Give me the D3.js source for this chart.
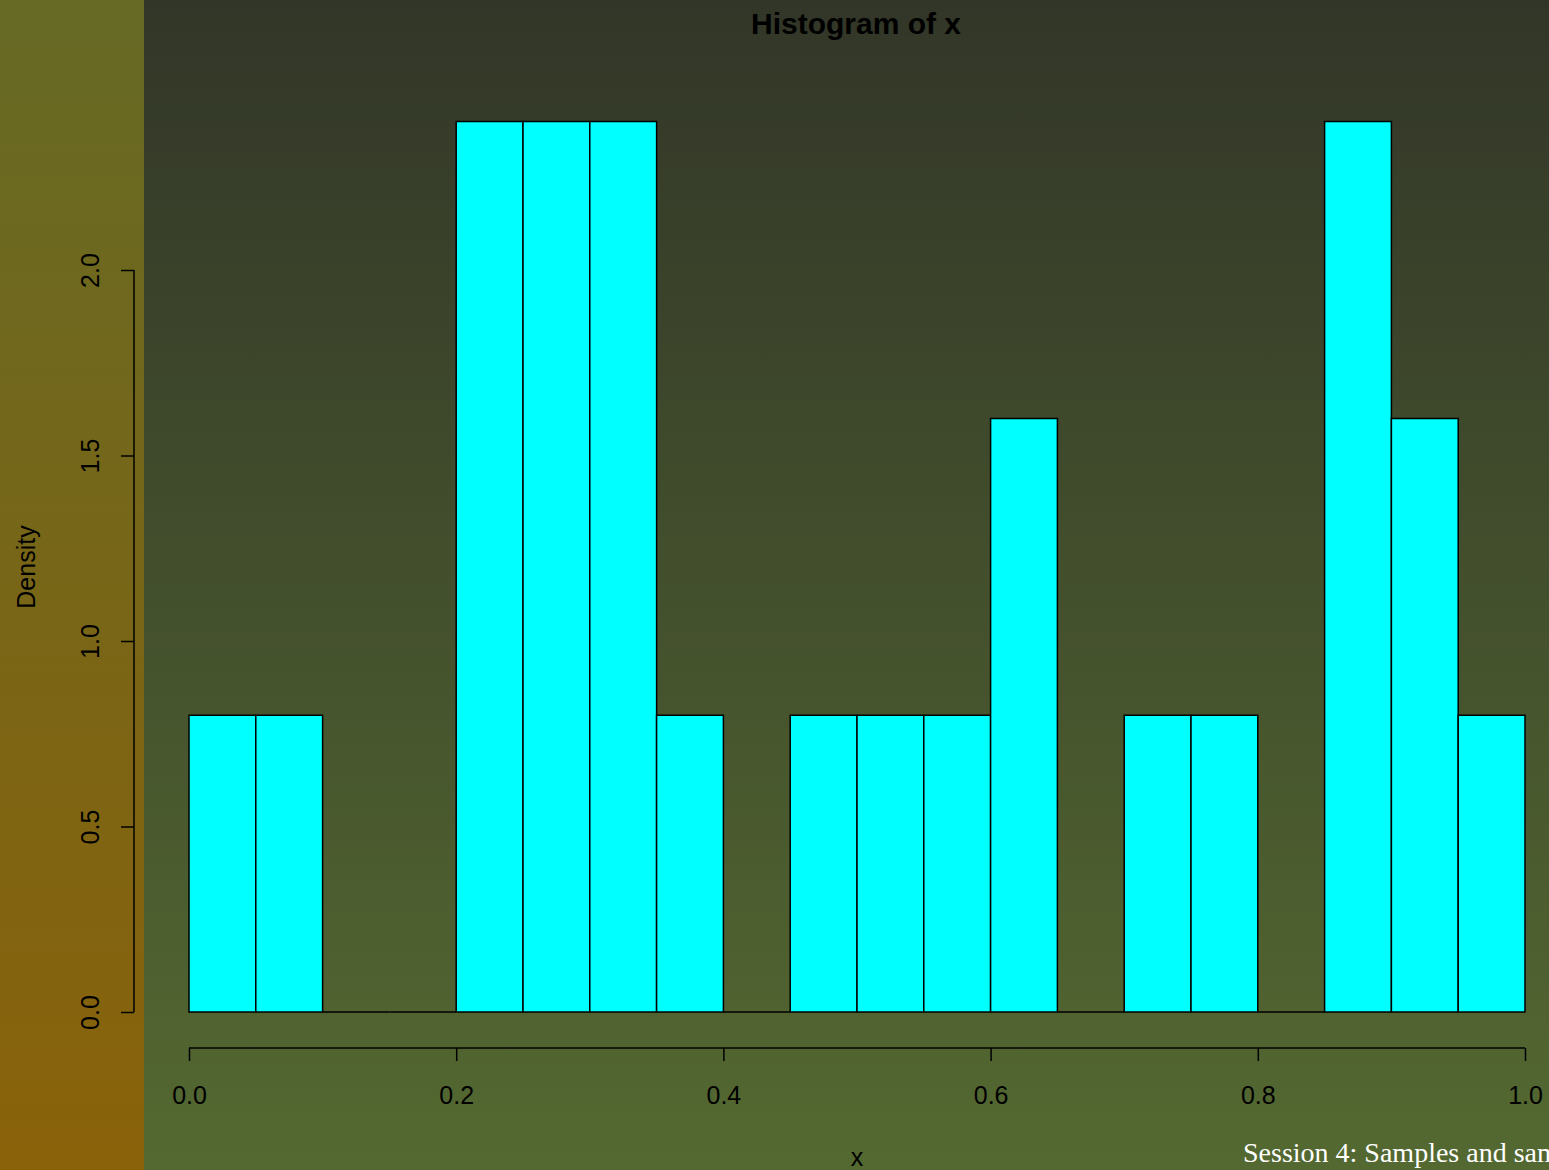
<!DOCTYPE html>
<html>
<head>
<meta charset="utf-8">
<script src="https://cdn.jsdelivr.net/npm/d3@7"></script>
<style>
  html, body { margin: 0; padding: 0; overflow: hidden; }
  svg { display: block; }
</style>
</head>
<body>
<script>
// histogram data: bin edges and densities
var binStarts = [0.00,0.05,0.10,0.15,0.20,0.25,0.30,0.35,0.40,0.45,0.50,0.55,0.60,0.65,0.70,0.75,0.80,0.85,0.90,0.95];
var densities = [0.8,0.8,0,0,2.4,2.4,2.4,0.8,0,0.8,0.8,0.8,1.6,0,0.8,0.8,0,2.4,1.6,0.8];
var binWidth = 0.05;
var xTicks = [0, 0.2, 0.4, 0.6, 0.8, 1.0];
var yTicks = [0, 0.5, 1.0, 1.5, 2.0];

var width = 1549;
var height = 1170;

var svg = d3.select("body")
    .append("svg")
    .attr("width", width)
    .attr("height", height);

// background gradients
var defs = svg.append("defs");
var g1 = defs.append("linearGradient").attr("id", "side").attr("x1", 0).attr("y1", 0).attr("x2", 0).attr("y2", 1);
g1.append("stop").attr("offset", "0%").attr("stop-color", "#666a25");
g1.append("stop").attr("offset", "100%").attr("stop-color", "#8a620a");
var g2 = defs.append("linearGradient").attr("id", "main").attr("x1", 0).attr("y1", 0).attr("x2", 0).attr("y2", 1);
g2.append("stop").attr("offset", "0%").attr("stop-color", "#323628");
g2.append("stop").attr("offset", "100%").attr("stop-color", "#546931");

svg.append("rect").attr("x", 0).attr("y", 0).attr("width", 144).attr("height", height).attr("fill", "url(#side)");
svg.append("rect").attr("x", 144).attr("y", 0).attr("width", width - 144).attr("height", height).attr("fill", "url(#main)");

var x = d3.scaleLinear().domain([0, 1]).range([189, 1525]);
var y = d3.scaleLinear().domain([0, 2]).range([1012, 270]);

// bars (as closed paths so empty bins still show their baseline)
svg.selectAll("path.bar")
    .data(binStarts)
    .enter()
    .append("path")
    .attr("class", "bar")
    .attr("d", function(d, i) {
        var x0 = x(d), x1 = x(d + binWidth), y0 = y(0), y1 = y(densities[i]);
        return "M" + x0 + "," + y0 + "V" + y1 + "H" + x1 + "V" + y0 + "Z";
    })
    .attr("fill", "#00ffff")
    .attr("stroke", "#000")
    .attr("stroke-width", 1.5);

var fontTick = "'Liberation Sans', Arial, sans-serif";

// x axis
var xAxis = svg.append("g")
    .attr("transform", "translate(0,1048)")
    .call(d3.axisBottom(x).tickValues(xTicks).tickSize(13).tickPadding(25).tickFormat(d3.format(".1f")));
xAxis.selectAll("path, line").attr("stroke", "#000").attr("stroke-width", 1.5);
xAxis.select("path").attr("d", "M" + x(0) + ",0H" + x(1));
xAxis.selectAll("text").attr("fill", "#000").style("font", "25px " + fontTick);

// y axis
var yAxis = svg.append("g")
    .attr("transform", "translate(134,0)")
    .call(d3.axisLeft(y).tickValues(yTicks).tickSize(13).tickFormat(d3.format(".1f")));
yAxis.selectAll("path, line").attr("stroke", "#000").attr("stroke-width", 1.5);
yAxis.select("path").attr("d", "M0," + y(0) + "V" + y(2));
yAxis.selectAll(".tick text")
    .attr("fill", "#000")
    .style("font", "25px " + fontTick)
    .attr("x", null).attr("dy", null)
    .attr("text-anchor", "middle")
    .attr("transform", "translate(-35,0) rotate(-90)")
    .attr("y", 0);

// titles
svg.append("text")
    .attr("x", 856).attr("y", 34)
    .attr("text-anchor", "middle")
    .style("font", "bold 30px " + fontTick)
    .attr("fill", "#000")
    .text("Histogram of x");

svg.append("text")
    .attr("x", 857).attr("y", 1166)
    .attr("text-anchor", "middle")
    .style("font", "25px " + fontTick)
    .attr("fill", "#000")
    .text("x");

svg.append("text")
    .attr("transform", "translate(35,567) rotate(-90)")
    .attr("text-anchor", "middle")
    .style("font", "25px " + fontTick)
    .attr("fill", "#000")
    .text("Density");

svg.append("text")
    .attr("x", 1243).attr("y", 1162)
    .style("font", "28px 'Liberation Serif', 'Times New Roman', serif")
    .attr("fill", "#fff")
    .text("Session 4: Samples and sampling");
</script>
</body>
</html>
